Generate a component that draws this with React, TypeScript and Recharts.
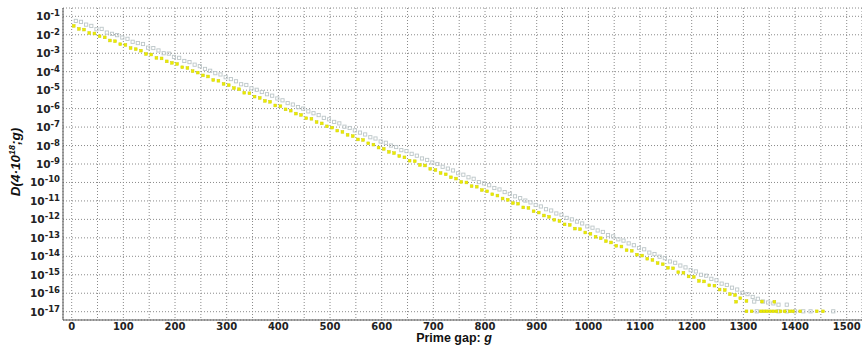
import { ScatterChart, Scatter, XAxis, YAxis, CartesianGrid } from 'recharts';

// prime gaps sampled along the band
const gaps = [
  4, 14, 24, 34, 44, 54, 64, 74, 84, 94,
  104, 114, 124, 134, 144, 154, 164, 174, 184, 194,
  204, 214, 224, 234, 244, 254, 264, 274, 284, 294,
  304, 314, 324, 334, 344, 354, 364, 374, 384, 394,
  404, 414, 424, 434, 444, 454, 464, 474, 484, 494,
  504, 514, 524, 534, 544, 554, 564, 574, 584, 594,
  604, 614, 624, 634, 644, 654, 664, 674, 684, 694,
  704, 714, 724, 734, 744, 754, 764, 774, 784, 794,
  804, 814, 824, 834, 844, 854, 864, 874, 884, 894,
  904, 914, 924, 934, 944, 954, 964, 974, 984, 994,
  1004, 1014, 1024, 1034, 1044, 1054, 1064, 1074, 1084, 1094,
  1104, 1114, 1124, 1134, 1144, 1154, 1164, 1174, 1184, 1194,
  1204, 1214, 1224, 1234, 1244, 1254, 1264, 1274, 1284, 1294,
];

// log10 D, yellow series
const yellowExp = [
  -1.52, -1.68, -1.72, -1.90, -1.93, -2.08, -2.14, -2.31, -2.35, -2.51,
  -2.55, -2.72, -2.78, -2.86, -3.04, -3.07, -3.25, -3.28, -3.44, -3.52,
  -3.58, -3.76, -3.80, -3.97, -4.05, -4.20, -4.26, -4.45, -4.49, -4.66,
  -4.73, -4.89, -4.95, -5.14, -5.17, -5.35, -5.42, -5.58, -5.63, -5.83,
  -5.87, -6.04, -6.11, -6.27, -6.34, -6.52, -6.55, -6.73, -6.80, -6.96,
  -7.03, -7.19, -7.26, -7.42, -7.49, -7.67, -7.70, -7.88, -7.95, -8.11,
  -8.18, -8.34, -8.41, -8.57, -8.64, -8.82, -8.85, -9.05, -9.08, -9.26,
  -9.33, -9.49, -9.56, -9.72, -9.79, -9.97, -10.00, -10.20, -10.23, -10.41,
  -10.48, -10.64, -10.71, -10.87, -10.94, -11.12, -11.15, -11.35, -11.38, -11.56,
  -11.63, -11.79, -11.86, -12.02, -12.09, -12.27, -12.30, -12.50, -12.53, -12.71,
  -12.78, -12.94, -13.02, -13.18, -13.25, -13.43, -13.47, -13.67, -13.70, -13.91,
  -13.96, -14.13, -14.20, -14.37, -14.43, -14.62, -14.65, -14.86, -14.89, -15.09,
  -15.12, -15.33, -15.36, -15.57, -15.59, -15.80, -15.83, -16.05, -16.10, -16.27,
];

const grayGaps = [
  8, 18, 28, 38, 48, 58, 68, 78, 88, 98,
  108, 118, 128, 138, 148, 158, 168, 178, 188, 198,
  208, 218, 228, 238, 248, 258, 268, 278, 288, 298,
  308, 318, 328, 338, 348, 358, 368, 378, 388, 398,
  408, 418, 428, 438, 448, 458, 468, 478, 488, 498,
  508, 518, 528, 538, 548, 558, 568, 578, 588, 598,
  608, 618, 628, 638, 648, 658, 668, 678, 688, 698,
  708, 718, 728, 738, 748, 758, 768, 778, 788, 798,
  808, 818, 828, 838, 848, 858, 868, 878, 888, 898,
  908, 918, 928, 938, 948, 958, 968, 978, 988, 998,
  1008, 1018, 1028, 1038, 1048, 1058, 1068, 1078, 1088, 1098,
  1108, 1118, 1128, 1138, 1148, 1158, 1168, 1178, 1188, 1198,
  1208, 1218, 1228, 1238, 1248, 1258, 1268, 1278, 1288, 1298,
  1308, 1318, 1328, 1338, 1348, 1358, 1368,
];

// log10 D, gray series
const grayExp = [
  -1.25, -1.30, -1.45, -1.52, -1.70, -1.68, -1.88, -1.95, -2.02, -2.15,
  -2.22, -2.38, -2.45, -2.50, -2.70, -2.72, -2.85, -3.00, -3.02, -3.20,
  -3.25, -3.42, -3.48, -3.62, -3.70, -3.85, -3.95, -4.08, -4.15, -4.30,
  -4.40, -4.52, -4.68, -4.72, -4.90, -4.98, -5.10, -5.22, -5.30, -5.45,
  -5.55, -5.70, -5.78, -5.92, -6.00, -6.15, -6.25, -6.35, -6.50, -6.58,
  -6.72, -6.80, -6.98, -7.05, -7.18, -7.30, -7.40, -7.55, -7.62, -7.78,
  -7.85, -8.00, -8.08, -8.25, -8.30, -8.45, -8.55, -8.70, -8.78, -8.92,
  -9.00, -9.15, -9.25, -9.35, -9.50, -9.58, -9.72, -9.80, -9.98, -10.05,
  -10.15, -10.30, -10.38, -10.52, -10.62, -10.75, -10.85, -10.98, -11.08, -11.22,
  -11.30, -11.45, -11.52, -11.68, -11.75, -11.92, -12.00, -12.12, -12.22, -12.38,
  -12.45, -12.60, -12.68, -12.85, -12.92, -13.08, -13.15, -13.30, -13.40, -13.55,
  -13.62, -13.80, -13.88, -14.02, -14.10, -14.28, -14.35, -14.50, -14.60, -14.75,
  -14.82, -15.00, -15.05, -15.22, -15.30, -15.48, -15.55, -15.70, -15.80, -15.98,
  -16.05, -16.20, -16.30, -16.45, -16.50, -16.55, -16.62,
];

// sparse tail: single-occurrence gaps
const yellowTailGaps = [1286, 1306, 1336, 1360, 1306, 1316, 1334, 1340, 1346, 1352, 1358, 1364, 1372, 1380, 1390, 1396, 1410, 1442, 1454];
const yellowTailExp = [-16.46, -16.42, -16.45, -16.46, -16.98, -16.98, -16.98, -16.98, -16.98, -16.98, -16.98, -16.98, -16.98, -16.98, -16.98, -16.98, -16.98, -16.98, -16.98];
const grayTailGaps = [1321, 1384, 1326, 1368, 1384, 1400, 1416, 1430, 1474];
const grayTailExp = [-16.45, -16.62, -16.98, -16.98, -16.98, -16.98, -16.98, -16.98, -16.98];

const xTicks = [0, 50, 100, 150, 200, 250, 300, 350, 400, 450, 500, 550, 600, 650, 700, 750, 800, 850, 900, 950, 1000, 1050, 1100, 1150, 1200, 1250, 1300, 1350, 1400, 1450, 1500];
const yTickExps = [-1, -2, -3, -4, -5, -6, -7, -8, -9, -10, -11, -12, -13, -14, -15, -16, -17];

const toPoints = (gs: number[], es: number[]) => gs.map((g, i) => ({ g, d: 10 ** es[i] }));

const yellowData = [...toPoints(gaps, yellowExp), ...toPoints(yellowTailGaps, yellowTailExp)];
const grayData = [...toPoints(grayGaps, grayExp), ...toPoints(grayTailGaps, grayTailExp)];

const X_DOMAIN = [-16.8, 1529.6];
const Y_DOMAIN = [10 ** -17.45, 10 ** -0.55];

const YellowDot = ({ cx, cy }: any) => (
  <rect x={cx - 1.4} y={cy - 1.4} width={2.8} height={2.8} fill="#ecec00" stroke="#d0d010" strokeWidth={0.5} />
);

const GrayDot = ({ cx, cy }: any) => (
  <rect x={cx - 1.6} y={cy - 1.6} width={3.2} height={3.2} fill="none" stroke="#bcc6c8" strokeWidth={0.9} />
);

const PowerTick = ({ x, y, payload }: any) => {
  const e = Math.round(Math.log10(payload.value));
  return (
    <text x={x} y={y} textAnchor="end" fontFamily="DejaVu Sans" fontWeight="bold" fontSize={10.5} fill="#222">
      <tspan dy={4}>10</tspan>
      <tspan dy={-4} fontSize={8.5}>{e}</tspan>
    </text>
  );
};

const XTitle = () => (
  <text x={454} y={342} textAnchor="middle" fontFamily="Liberation Sans" fontWeight="bold" fontSize={12.5} fill="#111">
    Prime gap: <tspan fontStyle="italic">g</tspan>
  </text>
);

const YTitle = () => (
  <text
    x={20}
    y={162}
    transform="rotate(-90 20 162)"
    textAnchor="middle"
    fontFamily="Liberation Sans"
    fontWeight="bold"
    fontStyle="italic"
    fontSize={13.5}
    fill="#111"
  >
    D(4·10<tspan dy={-5} fontSize={9}>18</tspan><tspan dy={5}>;g)</tspan>
  </text>
);

export default function App() {
  return (
    <div style={{ position: 'absolute', left: 0, top: 0, background: '#fff' }}>
      <ScatterChart width={862} height={349} margin={{ top: 8, right: 0, bottom: 0, left: 0 }}>
        <CartesianGrid stroke="#8a8a8a" strokeDasharray="1 2" />
        <XAxis
          dataKey="g"
          type="number"
          domain={X_DOMAIN}
          allowDataOverflow
          ticks={xTicks}
          interval={0}
          height={29}
          tickSize={0}
          tickMargin={3}
          tickFormatter={(v: number) => (v % 100 === 0 ? String(v) : '')}
          tick={{ fill: '#222', fontSize: 10, fontFamily: 'DejaVu Sans', fontWeight: 'bold' }}
          axisLine={{ stroke: '#555' }}
          label={{ content: () => <XTitle /> }}
        />
        <XAxis xAxisId="top" orientation="top" type="number" domain={X_DOMAIN} allowDataOverflow height={0} tick={false} tickLine={false} axisLine={{ stroke: '#555' }} />
        <YAxis
          dataKey="d"
          type="number"
          scale="log"
          domain={Y_DOMAIN}
          allowDataOverflow
          ticks={yTickExps.map(e => 10 ** e)}
          interval={0}
          width={63}
          tickSize={0}
          tickMargin={3}
          tick={<PowerTick />}
          axisLine={{ stroke: '#555' }}
          label={{ content: () => <YTitle /> }}
        />
        <Scatter data={grayData} shape={<GrayDot />} isAnimationActive={false} />
        <Scatter data={yellowData} shape={<YellowDot />} isAnimationActive={false} />
      </ScatterChart>
    </div>
  );
}
